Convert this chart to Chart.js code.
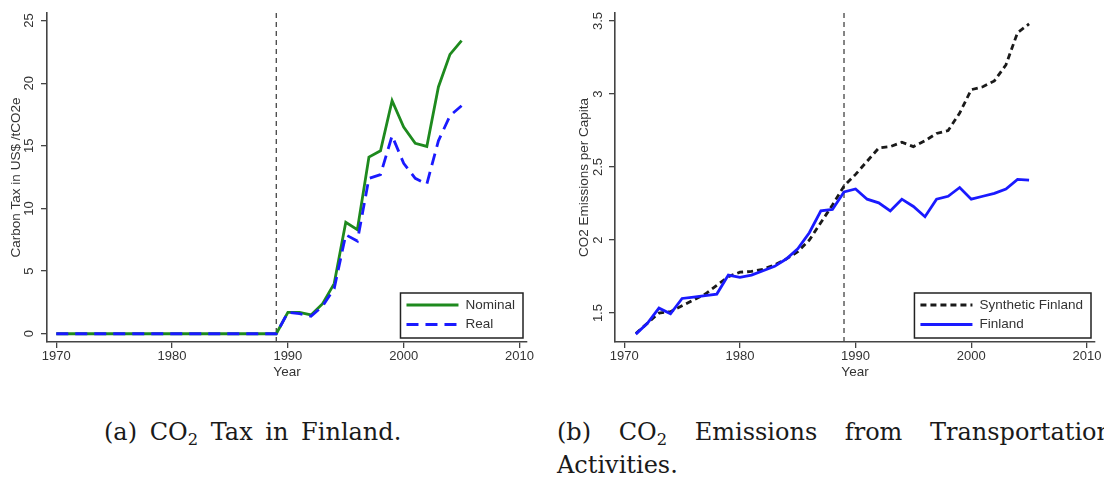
<!DOCTYPE html>
<html>
<head>
<meta charset="utf-8">
<script src="https://cdn.jsdelivr.net/npm/chart.js@4.4.1/dist/chart.umd.min.js"></script>
<style>
  html, body { margin: 0; padding: 0; background: #fff; width: 1104px; height: 478px; overflow: hidden; }
  .panel { position: absolute; top: 0; height: 390px; }
  #left { left: 0; width: 560px; }
  #right { left: 560px; width: 544px; }
  .caption { position: absolute; font-family: 'DejaVu Serif', serif; font-size: 24px; color: #1a1a1a; line-height: 33px; white-space: normal; }
  .caption sub { font-size: 0.68em; vertical-align: -0.3em; line-height: 0; }
  #capA { left: 104px; top: 416px; word-spacing: 5px; }
  #capB { left: 557px; top: 416px; width: 555px; text-align: justify; }
</style>
</head>
<body>
<div class="panel" id="left"><canvas id="tax" width="560" height="390"></canvas></div>
<div class="panel" id="right"><canvas id="emis" width="544" height="390"></canvas></div>
<div class="caption" id="capA">(a) CO<sub>2</sub> Tax in Finland.</div>
<div class="caption" id="capB">(b) CO<sub>2</sub> Emissions from Transportation Activities.</div>
<script>
// panel (a): carbon tax
const taxYears = [1970, 1971, 1972, 1973, 1974, 1975, 1976, 1977, 1978, 1979,
                  1980, 1981, 1982, 1983, 1984, 1985, 1986, 1987, 1988, 1989,
                  1990, 1991, 1992, 1993, 1994, 1995, 1996, 1997, 1998, 1999,
                  2000, 2001, 2002, 2003, 2004, 2005];
const nominalTax = [0, 0, 0, 0, 0, 0, 0, 0, 0, 0,
                    0, 0, 0, 0, 0, 0, 0, 0, 0, 0,
                    1.7, 1.7, 1.5, 2.4, 4.0, 8.9, 8.3, 14.1, 14.6, 18.6,
                    16.5, 15.2, 14.95, 19.7, 22.3, 23.4];
const realTax = [0, 0, 0, 0, 0, 0, 0, 0, 0, 0,
                 0, 0, 0, 0, 0, 0, 0, 0, 0, 0,
                 1.7, 1.6, 1.4, 2.2, 3.6, 7.9, 7.4, 12.4, 12.7, 15.8,
                 13.6, 12.4, 11.95, 15.4, 17.4, 18.2];
const taxTicks = [0, 5, 10, 15, 20, 25];

// panel (b): transport emissions
const emisYears = [1971, 1972, 1973, 1974, 1975, 1976, 1977, 1978, 1979,
                   1980, 1981, 1982, 1983, 1984, 1985, 1986, 1987, 1988, 1989,
                   1990, 1991, 1992, 1993, 1994, 1995, 1996, 1997, 1998, 1999,
                   2000, 2001, 2002, 2003, 2004, 2005];
const syntheticFinland = [1.36, 1.43, 1.50, 1.51, 1.55, 1.59, 1.63, 1.69, 1.75,
                          1.78, 1.785, 1.80, 1.83, 1.87, 1.92, 2.00, 2.12, 2.24, 2.37,
                          2.45, 2.54, 2.63, 2.64, 2.67, 2.64, 2.68, 2.73, 2.75, 2.87,
                          3.03, 3.05, 3.09, 3.20, 3.42, 3.48];
const finland = [1.356, 1.43, 1.534, 1.495, 1.60, 1.61, 1.62, 1.63, 1.76,
                 1.745, 1.76, 1.79, 1.82, 1.87, 1.94, 2.05, 2.20, 2.21, 2.33,
                 2.35, 2.28, 2.255, 2.20, 2.28, 2.23, 2.16, 2.28, 2.30, 2.36,
                 2.28, 2.30, 2.32, 2.35, 2.415, 2.41];
const emisTicks = [1.5, 2, 2.5, 3, 3.5];

const yearTicks = [1970, 1980, 1990, 2000, 2010];
const treatYear = 1989;

const textColor = '#333333';
const axisColor = '#444444';
const sansFamily = "'Liberation Sans', Arial, sans-serif";

const pairs = (xs, ys) => xs.map((x, i) => ({ x: x, y: ys[i] }));

// dashed vertical line at the treatment year
const treatLine = {
    id: 'treatLine',
    beforeDatasetsDraw(chart) {
        const ctx = chart.ctx;
        const area = chart.chartArea;
        const x = chart.scales.x.getPixelForValue(treatYear);
        ctx.save();
        ctx.strokeStyle = '#444444';
        ctx.lineWidth = 1.3;
        ctx.setLineDash([5, 4]);
        ctx.beginPath();
        ctx.moveTo(x, area.top);
        ctx.lineTo(x, area.bottom);
        ctx.stroke();
        ctx.restore();
    }
};

// stata-style legend, boxed in the lower right of the plot
const boxLegend = {
    id: 'boxLegend',
    afterDraw(chart) {
        const ctx = chart.ctx;
        const area = chart.chartArea;
        const items = chart.data.datasets;
        ctx.save();
        ctx.font = '13.5px ' + sansFamily;
        const textW = Math.max(...items.map(d => ctx.measureText(d.label).width));
        const w = 6 + 52 + 7 + textW + 8;
        const h = 45;
        const left = area.right - 4 - w;
        const top = area.bottom - 4 - h;
        ctx.fillStyle = '#ffffff';
        ctx.fillRect(left, top, w, h);
        ctx.strokeStyle = '#222222';
        ctx.lineWidth = 1.5;
        ctx.strokeRect(left, top, w, h);
        items.forEach((d, i) => {
            const y = top + 12 + i * 19.5;
            ctx.beginPath();
            ctx.setLineDash(d.borderDash || []);
            ctx.lineWidth = d.borderWidth;
            ctx.strokeStyle = d.borderColor;
            ctx.moveTo(left + 6, y);
            ctx.lineTo(left + 58, y);
            ctx.stroke();
            ctx.setLineDash([]);
            ctx.fillStyle = textColor;
            ctx.textBaseline = 'middle';
            ctx.fillText(d.label, left + 65, y);
        });
        ctx.restore();
    }
};

function scalesFor(o) {
    const grid = { drawOnChartArea: false, drawTicks: true, tickLength: 6, color: axisColor, lineWidth: 1.3 };
    const border = { display: true, color: axisColor, width: 1.6 };
    return {
        x: {
            type: 'linear',
            min: 1969.2,
            max: o.xMax,
            afterBuildTicks: (s) => { s.ticks = yearTicks.map(v => ({ value: v })); },
            afterFit: (s) => { s.height = 48; },
            grid: grid,
            border: border,
            ticks: { color: textColor, font: { family: sansFamily, size: 13 }, padding: 1,
                     maxRotation: 0, autoSkip: false, callback: v => String(v) },
            title: { display: true, text: 'Year', color: textColor,
                     font: { family: sansFamily, size: 13.5 }, padding: { top: 0, bottom: 10 } }
        },
        y: {
            type: 'linear',
            min: o.yMin,
            max: o.yMax,
            afterBuildTicks: (s) => { s.ticks = o.yTicks.map(v => ({ value: v })); },
            afterFit: (s) => { s.width = o.yWidth; },
            grid: grid,
            border: border,
            ticks: { color: textColor, font: { family: sansFamily, size: 13 }, padding: o.tickPad,
                     minRotation: 90, maxRotation: 90, crossAlign: 'center', autoSkip: false,
                     callback: v => String(v) },
            title: { display: true, text: o.yTitle, color: textColor,
                     font: { family: sansFamily, size: 13.5 }, padding: { top: o.titlePad, bottom: 0 } }
        }
    };
}

const baseOptions = {
    responsive: false,
    animation: false,
    events: [],
    plugins: { legend: { display: false }, tooltip: { enabled: false } },
    elements: { point: { radius: 0 }, line: { tension: 0 } }
};

new Chart(document.getElementById('tax'), {
    type: 'line',
    data: {
        datasets: [
            { label: 'Nominal', data: pairs(taxYears, nominalTax), borderColor: '#1e8a1e',
              borderWidth: 2.8, order: 2 },
            { label: 'Real', data: pairs(taxYears, realTax), borderColor: '#1a1aff',
              borderWidth: 2.8, borderDash: [12, 7], order: 1 }
        ]
    },
    options: Object.assign({}, baseOptions, {
        layout: { padding: { top: 13, right: 33, left: 0, bottom: 0 } },
        scales: scalesFor({ xMax: 2010.65, yMin: -0.66, yMax: 25.6, yTicks: taxTicks,
                            yWidth: 47, tickPad: 4, titlePad: 8,
                            yTitle: 'Carbon Tax in US$ /tCO2e' })
    }),
    plugins: [treatLine, boxLegend]
});

new Chart(document.getElementById('emis'), {
    type: 'line',
    data: {
        datasets: [
            { label: 'Synthetic Finland', data: pairs(emisYears, syntheticFinland), borderColor: '#1a1a1a',
              borderWidth: 2.8, borderDash: [6, 4], order: 2 },
            { label: 'Finland', data: pairs(emisYears, finland), borderColor: '#1a1aff',
              borderWidth: 2.8, order: 1 }
        ]
    },
    options: Object.assign({}, baseOptions, {
        layout: { padding: { top: 13, right: 9, left: 0, bottom: 0 } },
        scales: scalesFor({ xMax: 2010.7, yMin: 1.302, yMax: 3.555, yTicks: emisTicks,
                            yWidth: 55, tickPad: 2, titlePad: 16,
                            yTitle: 'CO2 Emissions per Capita' })
    }),
    plugins: [treatLine, boxLegend]
});
</script>
</body>
</html>
